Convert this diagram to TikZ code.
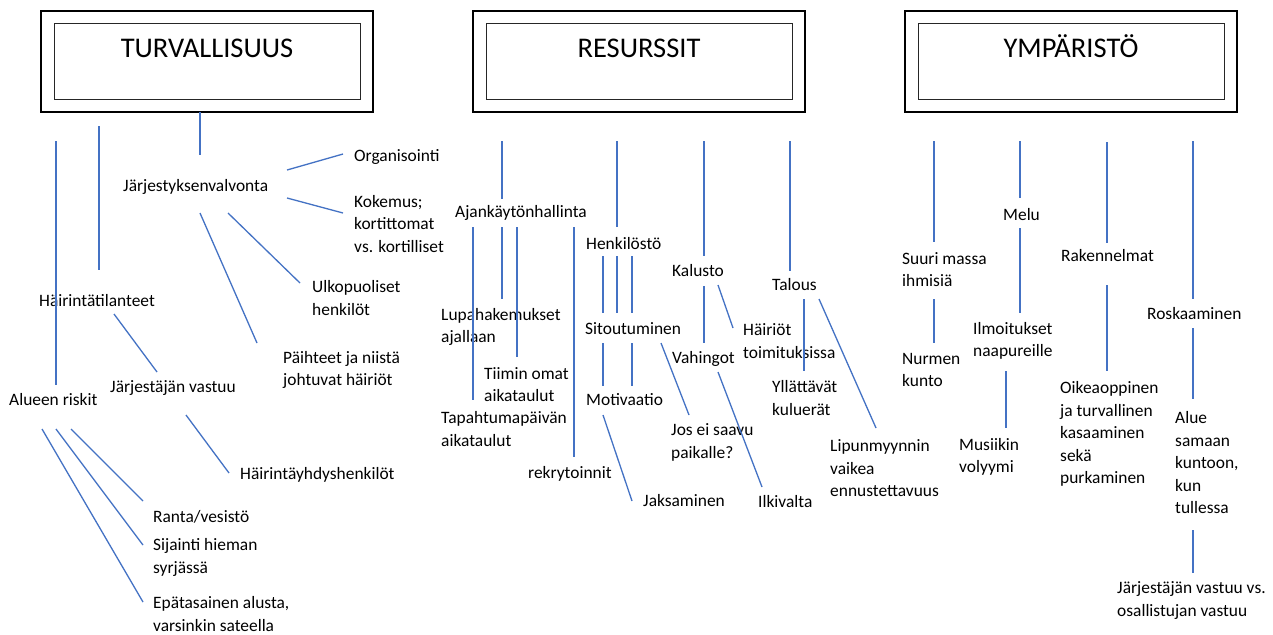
\documentclass[tikz,border=0pt]{standalone}
\usepackage{fontspec}
\setmainfont{Carlito}
\begin{document}
\begin{tikzpicture}[x=1pt,y=-1pt,
  outerbox/.style={draw=black,line width=1.2pt,minimum width=332pt,minimum height=101pt,inner sep=0pt},
  innerbox/.style={draw=black!85,line width=1pt,minimum width=306pt,minimum height=75pt,inner sep=0pt},
  ttl/.style={anchor=base,inner sep=0pt,font=\fontsize{28.5}{30}\selectfont},
  lbl/.style={anchor=west,inner sep=0pt,align=left,font=\fontsize{17.4}{22.5}\selectfont},
  conn/.style={draw={rgb,255:red,68;green,114;blue,196},line width=1.3pt}]
\useasboundingbox[fill=white] (0,0) rectangle (1273,634);

% ---------- header boxes ----------
\node[outerbox] (turvO) at (207,61.5) {};
\node[innerbox] (turvI) at (207,61.5) {};
\node[ttl] (turv) at (207,57) {TURVALLISUUS};
\node[outerbox] (resO) at (639,61.5) {};
\node[innerbox] (resI) at (639,61.5) {};
\node[ttl] (res) at (639,57) {RESURSSIT};
\node[outerbox] (ympO) at (1071,61.5) {};
\node[innerbox] (ympI) at (1071,61.5) {};
\node[ttl] (ymp) at (1071,57) {YMPÄRISTÖ};

% ---------- TURVALLISUUS texts ----------
\node[lbl] (jv) at (123,187) {Järjestyksenvalvonta};
\node[lbl] (org) at (354,157) {Organisointi};
\node[lbl] (kok) at (354,224) {Kokemus;\\kortittomat\\vs. kortilliset};
\node[lbl] (ulk) at (312,298) {Ulkopuoliset\\henkilöt};
\node[lbl] (paih) at (283,370) {Päihteet ja niistä\\johtuvat häiriöt};
\node[lbl] (hai) at (39,301) {Häirintätilanteet};
\node[lbl] (alr) at (9,400) {Alueen riskit};
\node[lbl] (jvast) at (110,388) {Järjestäjän vastuu};
\node[lbl] (hyh) at (240,475) {Häirintäyhdyshenkilöt};
\node[lbl] (ranta) at (153,517) {Ranta/vesistö};
\node[lbl] (sij) at (153,557.5) {Sijainti hieman\\syrjässä};
\node[lbl] (epa) at (153,614) {Epätasainen alusta,\\varsinkin sateella};

% ---------- RESURSSIT texts ----------
\node[lbl] (ajk) at (455,213) {Ajankäytönhallinta};
\node[lbl] (henk) at (586,244) {Henkilöstö};
\node[lbl] (kal) at (672,271) {Kalusto};
\node[lbl] (tal) at (772,285) {Talous};
\node[lbl] (lupa) at (441,327) {Lupahakemukset\\ajallaan};
\node[lbl] (tiimi) at (484,384.5) {Tiimin omat\\aikataulut};
\node[lbl] (tapa) at (441,429) {Tapahtumapäivän\\aikataulut};
\node[lbl] (rekr) at (528,474) {rekrytoinnit};
\node[lbl] (sit) at (585,329) {Sitoutuminen};
\node[lbl] (mot) at (586,400) {Motivaatio};
\node[lbl] (jos) at (671,442.5) {Jos ei saavu\\paikalle?};
\node[lbl] (jak) at (643,501) {Jaksaminen};
\node[lbl] (vah) at (672,359) {Vahingot};
\node[lbl] (hait) at (743,341) {Häiriöt\\toimituksissa};
\node[lbl] (ilk) at (758,502) {Ilkivalta};
\node[lbl] (yll) at (772,398) {Yllättävät\\kuluerät};
\node[lbl] (lip) at (830,468.5) {Lipunmyynnin\\vaikea\\ennustettavuus};

% ---------- YMPÄRISTÖ texts ----------
\node[lbl] (suuri) at (902,269.5) {Suuri massa\\ihmisiä};
\node[lbl] (melu) at (1003,215) {Melu};
\node[lbl] (rak) at (1061,256) {Rakennelmat};
\node[lbl] (rosk) at (1147,314) {Roskaaminen};
\node[lbl] (nurm) at (902,370) {Nurmen\\kunto};
\node[lbl] (ilm) at (973,341) {Ilmoitukset\\naapureille};
\node[lbl] (mus) at (959,457) {Musiikin\\volyymi};
\node[lbl] (oik) at (1060,434) {Oikeaoppinen\\ja turvallinen\\kasaaminen\\sekä\\purkaminen};
\node[lbl] (alue) at (1175,463) {Alue\\samaan\\kuntoon,\\kun\\tullessa};
\node[lbl] (jvv) at (1117,600.5) {Järjestäjän vastuu vs.\\osallistujan vastuu};

% ---------- connector end points ----------
% Turvallisuus
\coordinate (t1a) at (200,112); \coordinate (t1b) at (200,155);
\coordinate (t2a) at (56,141);  \coordinate (t2b) at (56,385);
\coordinate (t3a) at (99,126);  \coordinate (t3b) at (99,270);
\coordinate (t4a) at (287,170); \coordinate (t4b) at (343,154);
\coordinate (t5a) at (287,198); \coordinate (t5b) at (343,213);
\coordinate (t6a) at (228,213); \coordinate (t6b) at (300,283);
\coordinate (t7a) at (200,213); \coordinate (t7b) at (257,343);
\coordinate (t8a) at (114,314); \coordinate (t8b) at (157,372);
\coordinate (t9a) at (186,415); \coordinate (t9b) at (229,473);
\coordinate (t10a) at (42,429); \coordinate (t10b) at (143,602);
\coordinate (t11a) at (56,429); \coordinate (t11b) at (143,545);
\coordinate (t12a) at (71,429); \coordinate (t12b) at (143,501);
% Resurssit
\coordinate (r1a) at (502,141); \coordinate (r1b) at (502,199);
\coordinate (r2a) at (617,141); \coordinate (r2b) at (617,227);
\coordinate (r3a) at (704,141); \coordinate (r3b) at (704,256);
\coordinate (r4a) at (790,141); \coordinate (r4b) at (790,271);
\coordinate (r5a) at (473,227); \coordinate (r5b) at (473,400);
\coordinate (r6a) at (502,227); \coordinate (r6b) at (502,299);
\coordinate (r7a) at (517,227); \coordinate (r7b) at (517,357);
\coordinate (r8a) at (574,227); \coordinate (r8b) at (574,457);
\coordinate (r9a) at (603,256); \coordinate (r9b) at (603,313);
\coordinate (r10a) at (617,256); \coordinate (r10b) at (617,313);
\coordinate (r11a) at (632,256); \coordinate (r11b) at (632,313);
\coordinate (r12a) at (603,343); \coordinate (r12b) at (603,386);
\coordinate (r13a) at (632,343); \coordinate (r13b) at (632,386);
\coordinate (r14a) at (661,343); \coordinate (r14b) at (689,415);
\coordinate (r15a) at (603,415); \coordinate (r15b) at (632,501);
\coordinate (r16a) at (704,286); \coordinate (r16b) at (704,343);
\coordinate (r17a) at (718,285); \coordinate (r17b) at (733,328);
\coordinate (r18a) at (718,372); \coordinate (r18b) at (762,487);
\coordinate (r19a) at (804,299); \coordinate (r19b) at (804,371);
\coordinate (r20a) at (819,299); \coordinate (r20b) at (876,428);
% Ympäristö
\coordinate (y1a) at (934,141);  \coordinate (y1b) at (934,242);
\coordinate (y2a) at (1020,141); \coordinate (y2b) at (1020,198);
\coordinate (y3a) at (1107,142); \coordinate (y3b) at (1107,243);
\coordinate (y4a) at (1193,141); \coordinate (y4b) at (1193,299);
\coordinate (y5a) at (934,299);  \coordinate (y5b) at (934,343);
\coordinate (y6a) at (1020,228); \coordinate (y6b) at (1020,313);
\coordinate (y7a) at (1006,371); \coordinate (y7b) at (1006,428);
\coordinate (y8a) at (1107,285); \coordinate (y8b) at (1107,371);
\coordinate (y9a) at (1193,328); \coordinate (y9b) at (1193,399);
\coordinate (y10a) at (1193,530); \coordinate (y10b) at (1193,573);

% ---------- connectors ----------
\foreach \c in {t1,t2,t3,t4,t5,t6,t7,t8,t9,t10,t11,t12,
  r1,r2,r3,r4,r5,r6,r7,r8,r9,r10,r11,r12,r13,r14,r15,r16,r17,r18,r19,r20,
  y1,y2,y3,y4,y5,y6,y7,y8,y9,y10}
  \draw[conn] (\c a) -- (\c b);
\end{tikzpicture}
\end{document}
